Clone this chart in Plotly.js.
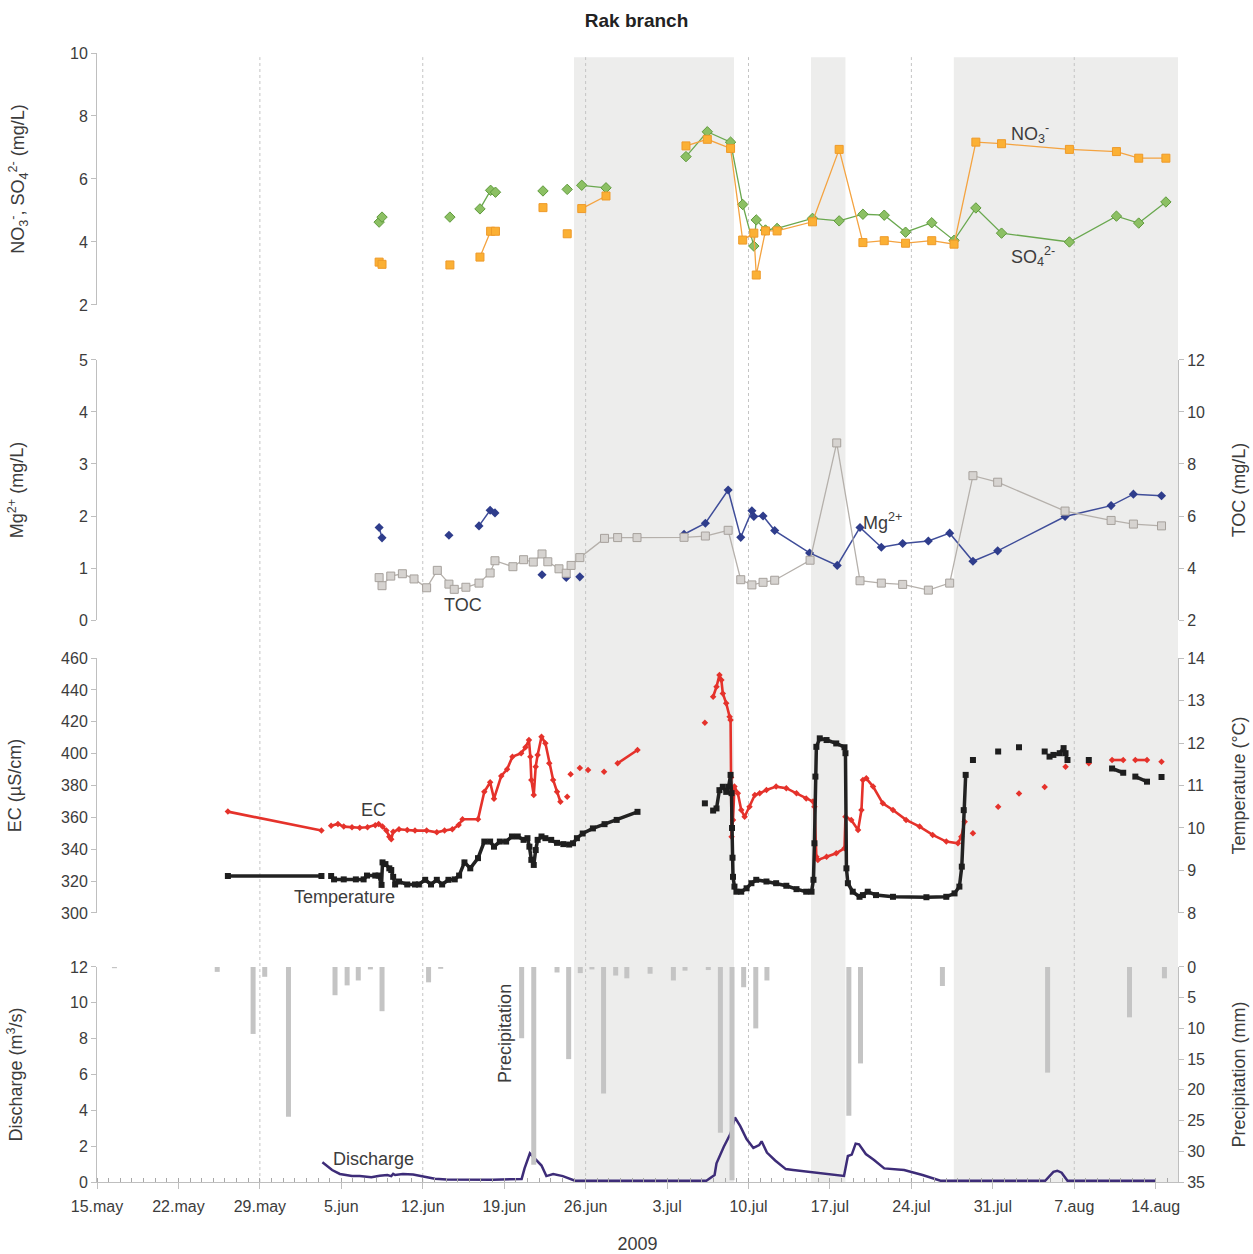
<!DOCTYPE html>
<html>
<head>
<meta charset="utf-8">
<script src="https://cdn.plot.ly/plotly-3.0.1.min.js"></script>
<style>html,body{margin:0;padding:0;background:#fff;}#chart{width:1253px;height:1254px;}</style>
</head>
<body>
<div id="chart"></div>
<script>
// ---------- DATA ----------
const tickDates = ['2009-05-15','2009-05-22','2009-05-29','2009-06-05','2009-06-12','2009-06-19','2009-06-26','2009-07-03','2009-07-10','2009-07-17','2009-07-24','2009-07-31','2009-08-07','2009-08-14'];
const tickLabels = ['15.may','22.may','29.may','5.jun','12.jun','19.jun','26.jun','3.jul','10.jul','17.jul','24.jul','31.jul','7.aug','14.aug'];
const gridDates = ['2009-05-29','2009-06-12','2009-06-26','2009-07-10','2009-07-24','2009-08-07'];
const shadedStart = ['2009-06-25 00:00','2009-07-15 09:00','2009-07-27 15:30'];
const shadedEnd   = ['2009-07-08 18:00','2009-07-18 08:00','2009-08-15 22:00'];

// Panel 1: NO3- and SO4 2-
const ionDates = ['2009-06-08 06:00','2009-06-08 12:00','2009-06-14 08:00','2009-06-16 22:00','2009-06-17 20:00','2009-06-18 06:00','2009-06-22 08:00','2009-06-24 10:00','2009-06-25 16:00','2009-06-27 18:00','2009-07-04 15:00','2009-07-06 11:00','2009-07-08 11:00','2009-07-09 12:00','2009-07-10 11:00','2009-07-10 16:00','2009-07-11 11:00','2009-07-12 11:00','2009-07-15 12:00','2009-07-17 19:00','2009-07-19 20:00','2009-07-21 16:00','2009-07-23 12:00','2009-07-25 18:00','2009-07-27 16:00','2009-07-29 13:00','2009-07-31 18:00','2009-08-06 14:00','2009-08-10 15:00','2009-08-12 13:00','2009-08-14 21:00'];
const so4 = [4.63,4.79,4.79,5.05,5.64,5.58,5.62,5.67,5.80,5.72,6.71,7.50,7.17,5.19,3.87,4.70,4.38,4.43,4.75,4.67,4.88,4.85,4.31,4.61,4.05,5.08,4.28,4.00,4.82,4.60,5.27];
const no3 = [3.36,3.29,3.27,3.52,4.34,4.34,5.09,4.26,5.06,5.46,7.05,7.26,6.97,4.06,4.28,2.95,4.35,4.35,4.64,6.94,3.98,4.04,3.96,4.04,3.93,7.17,7.12,6.94,6.87,6.66,6.66];
const ionBreaks = ['2009-06-14 08:00','2009-06-16 22:00','2009-06-22 08:00','2009-06-24 10:00','2009-06-25 16:00','2009-07-04 15:00'];

// Panel 2: Mg2+ and TOC
const mgDates = ['2009-06-08 06:00','2009-06-08 12:00','2009-06-14 06:00','2009-06-16 20:00','2009-06-17 19:00','2009-06-18 05:00','2009-06-22 06:00','2009-06-24 08:00','2009-06-25 12:00','2009-07-04 11:00','2009-07-06 07:00','2009-07-08 06:00','2009-07-09 08:00','2009-07-10 07:00','2009-07-10 11:00','2009-07-11 06:00','2009-07-12 06:00','2009-07-15 06:00','2009-07-17 15:00','2009-07-19 14:00','2009-07-21 10:00','2009-07-23 06:00','2009-07-25 11:00','2009-07-27 07:00','2009-07-29 07:00','2009-07-31 10:00','2009-08-06 05:00','2009-08-10 04:00','2009-08-12 02:00','2009-08-14 12:00'];
const mg = [1.78,1.58,1.63,1.81,2.11,2.06,0.87,0.82,0.83,1.65,1.86,2.50,1.59,2.10,1.99,2.00,1.72,1.29,1.05,1.78,1.40,1.47,1.52,1.67,1.13,1.33,1.99,2.20,2.42,2.39];
const mgBreaks = ['2009-06-14 06:00','2009-06-16 20:00','2009-06-22 06:00','2009-06-24 08:00','2009-06-25 12:00','2009-07-04 11:00'];
const tocDates = ['2009-06-08 06:00','2009-06-08 12:00','2009-06-09 06:00','2009-06-10 06:00','2009-06-11 06:00','2009-06-12 08:00','2009-06-13 06:00','2009-06-14 06:00','2009-06-14 17:00','2009-06-15 17:00','2009-06-16 20:00','2009-06-17 19:00','2009-06-18 05:00','2009-06-19 18:00','2009-06-20 16:00','2009-06-21 12:00','2009-06-22 06:00','2009-06-22 18:00','2009-06-23 17:00','2009-06-24 08:00','2009-06-24 18:00','2009-06-25 12:00','2009-06-27 15:00','2009-06-28 18:00','2009-06-30 10:00','2009-07-04 11:00','2009-07-06 07:00','2009-07-08 06:00','2009-07-09 08:00','2009-07-10 07:00','2009-07-11 06:00','2009-07-12 06:00','2009-07-15 07:00','2009-07-17 14:00','2009-07-19 14:00','2009-07-21 10:00','2009-07-23 06:00','2009-07-25 11:00','2009-07-27 07:00','2009-07-29 07:00','2009-07-31 10:00','2009-08-06 05:00','2009-08-10 04:00','2009-08-12 02:00','2009-08-14 12:00'];
const toc = [3.63,3.32,3.69,3.78,3.58,3.24,3.91,3.38,3.18,3.26,3.42,3.81,4.28,4.05,4.32,4.23,4.54,4.24,3.97,3.80,4.10,4.40,5.14,5.17,5.17,5.18,5.23,5.45,3.55,3.35,3.45,3.53,4.30,8.81,3.51,3.42,3.37,3.15,3.42,7.55,7.30,6.19,5.83,5.69,5.62];

// Panel 3: EC and water temperature
const ecDates = ['2009-05-26 06:00','2009-06-03 07:00',
 '2009-06-04 03:00','2009-06-04 17:00','2009-06-05 05:00','2009-06-05 22:00','2009-06-06 14:00','2009-06-07 06:00','2009-06-07 22:00','2009-06-08 05:00','2009-06-08 13:00','2009-06-08 21:00','2009-06-09 03:00','2009-06-09 07:00','2009-06-09 11:00','2009-06-09 23:00','2009-06-10 16:00','2009-06-11 08:00','2009-06-12 08:00','2009-06-13 05:00','2009-06-13 21:00','2009-06-14 13:00','2009-06-15 02:00','2009-06-15 10:00','2009-06-16 18:00','2009-06-17 07:00','2009-06-17 19:00','2009-06-18 03:00','2009-06-18 18:00','2009-06-19 06:00','2009-06-19 17:00','2009-06-20 11:00','2009-06-20 20:00','2009-06-21 03:00','2009-06-21 06:00','2009-06-21 08:00','2009-06-21 13:00','2009-06-21 17:00','2009-06-21 21:00','2009-06-22 05:00','2009-06-22 13:00','2009-06-22 21:00','2009-06-23 05:00','2009-06-23 13:00','2009-06-23 20:00',
 '2009-06-24 10:00','2009-06-24 17:00','2009-06-25 12:00','2009-06-26 05:00','2009-06-27 14:00','2009-06-28 18:00','2009-06-30 11:00',
 '2009-07-06 06:00',
 '2009-07-06 23:00','2009-07-07 06:00','2009-07-07 12:00','2009-07-07 16:00','2009-07-07 19:00','2009-07-08 02:00','2009-07-08 09:00','2009-07-08 11:00','2009-07-08 12:00','2009-07-08 13:00','2009-07-08 16:00','2009-07-08 19:00','2009-07-09 02:00','2009-07-09 09:00','2009-07-09 16:00','2009-07-10 02:00','2009-07-10 13:00','2009-07-10 23:00','2009-07-11 13:00','2009-07-12 09:00','2009-07-13 06:00','2009-07-14 03:00','2009-07-14 23:00','2009-07-15 13:00','2009-07-15 16:00','2009-07-15 20:00','2009-07-15 23:00','2009-07-16 17:00','2009-07-17 13:00','2009-07-18 06:00','2009-07-18 08:00','2009-07-18 20:00','2009-07-19 10:00','2009-07-19 17:00','2009-07-19 20:00','2009-07-20 03:00','2009-07-20 17:00','2009-07-21 13:00','2009-07-22 10:00','2009-07-23 13:00','2009-07-24 17:00','2009-07-25 20:00','2009-07-27 00:00','2009-07-28 00:00','2009-07-28 07:00','2009-07-28 14:00',
 '2009-07-29 07:00','2009-07-31 11:00','2009-08-02 06:00','2009-08-04 11:00','2009-08-06 06:00','2009-08-08 06:00','2009-08-10 06:00','2009-08-11 05:00','2009-08-12 06:00','2009-08-13 06:00','2009-08-14 12:00'];
const ec = [363.6,351.7,
 354.8,355.9,354.2,353.8,353.5,353.8,355.0,355.9,354.2,351.7,347.9,346.3,351.0,352.5,352.1,351.7,351.7,350.6,351.7,352.5,355.2,358.8,358.8,376.1,382.0,371.7,386.0,390.2,398.1,400.2,404.0,408.6,398.0,383.5,374.0,391.8,399.2,410.6,406.5,393.9,383.5,376.1,369.8,
 373.0,387.0,391.0,389.7,388.7,393.9,402.3,
 419.4,
 435.7,442.0,449.3,446.2,437.8,431.6,423.2,421.1,385.0,347.9,358.4,379.3,375.1,364.6,360.4,366.7,374.0,375.1,377.2,379.3,378.3,375.1,371.9,369.9,366.7,335.3,333.3,335.3,337.5,340.6,360.4,358.4,352.1,364.6,383.5,384.5,379.3,368.8,364.6,358.4,354.2,349.0,344.8,343.7,347.9,357.3,
 350.0,366.7,374.9,379.1,391.8,393.9,396.0,396.0,396.0,396.0,394.9];
const ecBreaks = ['2009-06-04 03:00','2009-06-24 10:00','2009-06-24 17:00','2009-06-25 12:00','2009-06-26 05:00','2009-06-27 14:00','2009-06-28 18:00','2009-07-06 06:00','2009-07-06 23:00','2009-07-29 07:00','2009-07-31 11:00','2009-08-02 06:00','2009-08-04 11:00','2009-08-06 06:00','2009-08-08 06:00','2009-08-10 06:00','2009-08-12 06:00','2009-08-14 12:00'];

const tempDates = ['2009-05-26 06:00','2009-06-03 07:00',
 '2009-06-04 03:00','2009-06-04 09:00','2009-06-05 05:00','2009-06-06 06:00','2009-06-06 22:00','2009-06-07 05:00','2009-06-07 22:00','2009-06-08 05:00','2009-06-08 11:00','2009-06-08 13:00','2009-06-08 19:00','2009-06-09 03:00','2009-06-09 07:00','2009-06-09 11:00','2009-06-09 15:00','2009-06-09 23:00','2009-06-10 16:00','2009-06-11 08:00','2009-06-11 16:00','2009-06-12 05:00','2009-06-12 17:00','2009-06-13 05:00','2009-06-13 16:00','2009-06-14 05:00','2009-06-14 18:00','2009-06-15 03:00','2009-06-15 14:00','2009-06-16 02:00','2009-06-16 18:00','2009-06-17 07:00','2009-06-17 19:00','2009-06-18 03:00','2009-06-18 15:00','2009-06-19 04:00','2009-06-19 16:00','2009-06-20 04:00','2009-06-20 16:00','2009-06-21 00:00','2009-06-21 04:00','2009-06-21 08:00','2009-06-21 13:00','2009-06-21 17:00','2009-06-21 21:00','2009-06-22 05:00','2009-06-22 13:00','2009-06-23 01:00','2009-06-23 13:00','2009-06-24 02:00','2009-06-24 14:00','2009-06-24 22:00','2009-06-25 06:00','2009-06-25 18:00','2009-06-26 15:00','2009-06-27 15:00','2009-06-28 16:00','2009-06-30 11:00',
 '2009-07-06 06:00',
 '2009-07-06 23:00','2009-07-07 06:00','2009-07-07 12:00','2009-07-07 19:00','2009-07-08 02:00','2009-07-08 07:00','2009-07-08 11:00','2009-07-08 13:00','2009-07-08 14:00','2009-07-08 15:00','2009-07-08 16:00','2009-07-08 19:00','2009-07-08 23:00','2009-07-09 09:00','2009-07-09 20:00','2009-07-10 06:00','2009-07-10 16:00','2009-07-11 13:00','2009-07-12 09:00','2009-07-13 06:00','2009-07-14 03:00','2009-07-14 23:00','2009-07-15 10:00','2009-07-15 14:00','2009-07-15 16:00','2009-07-15 18:00','2009-07-15 20:00','2009-07-16 03:00','2009-07-16 17:00','2009-07-17 13:00','2009-07-18 06:00','2009-07-18 08:00','2009-07-18 10:00','2009-07-18 13:00','2009-07-18 23:00','2009-07-19 13:00','2009-07-19 20:00','2009-07-20 06:00','2009-07-20 23:00','2009-07-22 10:00','2009-07-25 07:00','2009-07-27 00:00','2009-07-27 17:00','2009-07-28 03:00','2009-07-28 08:00','2009-07-28 12:00','2009-07-28 16:00',
 '2009-07-29 07:00','2009-07-31 11:00','2009-08-02 06:00','2009-08-04 11:00',
 '2009-08-04 21:00','2009-08-05 05:00','2009-08-05 18:00','2009-08-06 02:00','2009-08-06 06:00','2009-08-06 10:00',
 '2009-08-08 06:00','2009-08-10 06:00','2009-08-11 05:00','2009-08-12 06:00','2009-08-13 06:00','2009-08-14 12:00'];
const temp = [8.87,8.87,
 8.87,8.79,8.79,8.79,8.79,8.88,8.88,8.88,8.66,9.19,9.15,9.05,9.01,8.85,8.67,8.74,8.67,8.67,8.67,8.78,8.67,8.78,8.67,8.78,8.79,8.88,9.19,9.05,9.29,9.68,9.68,9.56,9.68,9.68,9.80,9.80,9.72,9.76,9.56,9.25,9.13,9.48,9.72,9.80,9.76,9.72,9.65,9.62,9.61,9.64,9.76,9.87,9.99,10.09,10.19,10.38,
 10.58,
 10.41,10.46,10.89,10.97,10.85,10.97,11.25,10.82,10.00,9.30,8.85,8.62,8.50,8.50,8.58,8.70,8.78,8.74,8.70,8.64,8.56,8.50,8.50,8.78,9.64,11.21,11.91,12.11,12.07,11.99,11.90,11.76,9.05,8.70,8.50,8.38,8.42,8.50,8.42,8.38,8.37,8.38,8.46,8.62,9.09,10.42,11.25,
 11.60,11.80,11.90,11.80,
 11.68,11.72,11.76,11.88,11.76,11.60,
 11.60,11.40,11.30,11.21,11.09,11.20];
const tempBreaks = ['2009-06-04 03:00','2009-07-06 06:00','2009-07-06 23:00','2009-07-29 07:00','2009-07-31 11:00','2009-08-02 06:00','2009-08-04 11:00','2009-08-04 21:00','2009-08-08 06:00','2009-08-10 06:00','2009-08-12 06:00','2009-08-14 12:00'];

// Panel 4: discharge and precipitation
const qDates = ['2009-06-03 09:00','2009-06-04 05:00','2009-06-04 21:00','2009-06-05 22:00','2009-06-06 14:00','2009-06-07 14:00','2009-06-08 07:00','2009-06-08 23:00','2009-06-09 07:00','2009-06-09 11:00','2009-06-09 15:00','2009-06-10 07:00','2009-06-11 04:00','2009-06-12 00:00','2009-06-13 01:00','2009-06-14 01:00','2009-06-18 01:00','2009-06-20 12:00','2009-06-20 18:00','2009-06-21 05:00','2009-06-21 15:00','2009-06-22 05:00','2009-06-22 15:00','2009-06-23 05:00','2009-06-24 01:00','2009-06-24 15:00','2009-06-25 02:00','2009-07-06 09:00','2009-07-07 02:00','2009-07-07 06:00','2009-07-07 21:00','2009-07-08 11:00','2009-07-08 20:00','2009-07-09 07:00','2009-07-09 20:00','2009-07-10 10:00','2009-07-10 22:00','2009-07-11 03:00','2009-07-11 14:00','2009-07-12 07:00','2009-07-13 05:00','2009-07-13 20:00','2009-07-18 05:00','2009-07-18 13:00','2009-07-18 21:00','2009-07-19 05:00','2009-07-19 12:00','2009-07-20 02:00','2009-07-20 19:00','2009-07-21 16:00','2009-07-23 09:00','2009-07-24 23:00','2009-07-26 12:00','2009-08-04 12:00','2009-08-05 05:00','2009-08-05 13:00','2009-08-05 22:00','2009-08-06 10:00','2009-08-14 00:00'];
const discharge = [1.10,0.67,0.45,0.33,0.33,0.26,0.35,0.39,0.33,0.45,0.39,0.45,0.42,0.32,0.18,0.14,0.13,0.17,0.76,1.60,1.30,0.92,0.33,0.44,0.33,0.20,0.07,0.07,0.39,1.04,1.97,2.70,3.60,3.12,2.40,1.90,2.06,2.27,1.64,1.20,0.72,0.67,0.34,1.45,1.53,2.14,2.10,1.56,1.23,0.76,0.67,0.39,0.07,0.07,0.57,0.63,0.52,0.07,0.07];
const pDates = ['2009-05-16 12:00','2009-05-25 08:00','2009-05-28 10:00','2009-05-29 10:00','2009-05-31 11:00','2009-06-04 11:00','2009-06-05 12:00','2009-06-06 11:00','2009-06-07 12:00','2009-06-08 12:00','2009-06-12 12:00','2009-06-13 13:00','2009-06-20 12:00','2009-06-21 13:00','2009-06-23 13:00','2009-06-24 13:00','2009-06-25 13:00','2009-06-26 13:00','2009-06-27 13:00','2009-06-28 14:00','2009-06-29 13:00','2009-07-01 13:00','2009-07-03 13:00','2009-07-04 13:00','2009-07-06 13:00','2009-07-07 14:00','2009-07-08 14:00','2009-07-09 14:00','2009-07-10 15:00','2009-07-11 14:00','2009-07-18 15:00','2009-07-19 15:00','2009-07-26 16:00','2009-08-04 17:00','2009-08-11 18:00','2009-08-14 18:00'];
const precip = [0.2,0.8,10.9,1.6,24.4,4.6,3.0,2.2,0.4,7.2,2.5,0.3,11.6,32.2,0.9,15.0,1.0,0.4,20.6,1.4,1.85,1.1,2.2,0.6,0.5,27.0,34.7,3.3,10.0,2.2,24.2,15.7,3.1,17.2,8.2,1.85];

// ---------- HELPERS ----------
function withGaps(x, y, breaks) {
  const set = new Set(breaks), X = [], Y = [];
  for (let i = 0; i < x.length; i++) {
    if (i > 0 && set.has(x[i])) { X.push(x[i]); Y.push(null); }
    X.push(x[i]); Y.push(y[i]);
  }
  return {x: X, y: Y};
}

const FONT = 'Liberation Sans, Arial, sans-serif';
const TXT = '#3c3c3c';
const AX = '#bfbfbf';

const so4G = withGaps(ionDates, so4, ionBreaks);
const no3G = withGaps(ionDates, no3, ionBreaks);
const mgG = withGaps(mgDates, mg, mgBreaks);
const ecG = withGaps(ecDates, ec, ecBreaks);
const tG = withGaps(tempDates, temp, tempBreaks);

const traces = [
  {type:'bar', x:pDates, y:precip, xaxis:'x', yaxis:'y7', width:0.43*86400000,
   marker:{color:'#c4c4c4'}, hoverinfo:'x+y'},
  {type:'scatter', mode:'lines', x:qDates, y:discharge, xaxis:'x', yaxis:'y6',
   line:{color:'#3d2c78', width:2.5}},
  {type:'scatter', mode:'lines+markers', x:tocDates, y:toc, xaxis:'x', yaxis:'y3',
   line:{color:'#b5b0ab', width:1.3},
   marker:{symbol:'square', size:8, color:'#d6d3d0', line:{color:'#a6a19c', width:1}}},
  {type:'scatter', mode:'lines+markers', x:mgG.x, y:mgG.y, xaxis:'x', yaxis:'y2',
   line:{color:'#3f4d99', width:1.5},
   marker:{symbol:'diamond', size:7, color:'#2f3d8c'}},
  {type:'scatter', mode:'lines+markers', x:so4G.x, y:so4G.y, xaxis:'x', yaxis:'y',
   line:{color:'#6aa84f', width:1.3},
   marker:{symbol:'diamond', size:8, color:'#8cc063', line:{color:'#5f9a3c', width:1}}},
  {type:'scatter', mode:'lines+markers', x:no3G.x, y:no3G.y, xaxis:'x', yaxis:'y',
   line:{color:'#f4a340', width:1.3},
   marker:{symbol:'square', size:8, color:'#fbb034', line:{color:'#ee9a2a', width:1}}},
  {type:'scatter', mode:'lines+markers', x:tG.x, y:tG.y, xaxis:'x', yaxis:'y5',
   line:{color:'#222', width:3.5},
   marker:{symbol:'square', size:6, color:'#1e1e1e'}},
  {type:'scatter', mode:'lines+markers', x:ecG.x, y:ecG.y, xaxis:'x', yaxis:'y4',
   line:{color:'#e5322b', width:2.6},
   marker:{symbol:'diamond', size:5, color:'#e5322b'}}
];

const shapes = [];
for (let i = 0; i < shadedStart.length; i++) {
  shapes.push({type:'rect', xref:'x', yref:'paper', x0:shadedStart[i], x1:shadedEnd[i], y0:0, y1:0.985,
    fillcolor:'#ededec', line:{width:0}, layer:'below'});
}
gridDates.forEach(d => shapes.push({type:'line', xref:'x', yref:'paper', x0:d, x1:d, y0:0, y1:0.985,
  line:{color:'#c4c4c4', width:1, dash:'3px,3px'}, layer:'below'}));

function yax(extra) {
  return Object.assign({
    showline:true, linecolor:AX, linewidth:1, ticks:'outside', ticklen:5, tickcolor:AX,
    showgrid:false, zeroline:false, fixedrange:true,
    tickfont:{family:FONT, size:16, color:TXT}
  }, extra);
}
function ttl(t, s) { return {text:t, font:{family:FONT, size:18, color:TXT}, standoff:s}; }

const layout = {
  width:1253, height:1254,
  margin:{l:97, r:75, t:40, b:72},
  paper_bgcolor:'#ffffff', plot_bgcolor:'rgba(0,0,0,0)',
  showlegend:false,
  font:{family:FONT, color:TXT},
  title:{text:'<b>Rak branch</b>', x:0.508, xanchor:'center', y:0.984, yanchor:'middle',
         font:{family:FONT, size:19, color:'#222'}},
  xaxis:{type:'date', range:['2009-05-15 00:00','2009-08-15 22:00'], anchor:'y6',
    tickmode:'array', tickvals:tickDates, ticktext:tickLabels,
    ticks:'outside', ticklen:6, tickcolor:AX, showline:true, linecolor:AX,
    showgrid:false, zeroline:false, ticklabelstandoff:4,
    minor:{ticks:'inside', ticklen:4, tickcolor:'#a8a8a8', dtick:86400000, tick0:'2009-05-15', showgrid:false},
    tickfont:{family:FONT, size:16, color:TXT},
    title:{text:'2009', font:{family:FONT, size:18, color:TXT}, standoff:26}},
  yaxis: yax({domain:[0.768,0.9886], range:[2,10], dtick:2, anchor:'x',
    title:ttl('NO<sub>3</sub><sup>-</sup>, SO<sub>4</sub><sup>2-</sup> (mg/L)', 40)}),
  yaxis2: yax({domain:[0.4921,0.7198], range:[0,5], dtick:1, anchor:'x',
    title:ttl('Mg<sup>2+</sup> (mg/L)', 50)}),
  yaxis3: yax({overlaying:'y2', side:'right', anchor:'x', range:[2,12], dtick:2,
    title:ttl('TOC (mg/L)', 28)}),
  yaxis4: yax({domain:[0.2356,0.4588], range:[300,460], dtick:20, anchor:'x',
    title:ttl('EC (µS/cm)', 34)}),
  yaxis5: yax({overlaying:'y4', side:'right', anchor:'x', range:[8,14], dtick:1,
    title:ttl('Temperature (°C)', 28)}),
  yaxis6: yax({domain:[0,0.1883], range:[0,12], dtick:2, anchor:'x',
    title:ttl('Discharge (m<sup>3</sup>/s)', 42)}),
  yaxis7: yax({overlaying:'y6', side:'right', anchor:'x', range:[35,0], dtick:5,
    title:ttl('Precipitation (mm)', 28)}),
  shapes: shapes,
  annotations: [
    {text:'NO<sub>3</sub><sup>-</sup>', x:'2009-08-03 04:00', y:7.46, xref:'x', yref:'y', showarrow:false, font:{family:FONT, size:18, color:TXT}},
    {text:'SO<sub>4</sub><sup>2-</sup>', x:'2009-08-03 10:00', y:3.55, xref:'x', yref:'y', showarrow:false, font:{family:FONT, size:18, color:TXT}},
    {text:'Mg<sup>2+</sup>', x:'2009-07-21 13:00', y:1.9, xref:'x', yref:'y2', showarrow:false, font:{family:FONT, size:18, color:TXT}},
    {text:'TOC', x:'2009-06-15 11:00', y:0.29, xref:'x', yref:'y2', showarrow:false, font:{family:FONT, size:18, color:TXT}},
    {text:'EC', x:'2009-06-07 19:00', y:364.6, xref:'x', yref:'y4', showarrow:false, font:{family:FONT, size:18, color:TXT}},
    {text:'Temperature', x:'2009-06-05 07:00', y:310, xref:'x', yref:'y4', showarrow:false, font:{family:FONT, size:18, color:TXT}},
    {text:'Discharge', x:'2009-06-07 19:00', y:1.28, xref:'x', yref:'y6', showarrow:false, font:{family:FONT, size:18, color:TXT}},
    {text:'Precipitation', x:'2009-06-19 03:00', y:8.3, xref:'x', yref:'y6', showarrow:false, textangle:-90, font:{family:FONT, size:18, color:TXT}}
  ]
};

Plotly.newPlot('chart', traces, layout, {displayModeBar:false, staticPlot:true});
</script>
</body>
</html>
